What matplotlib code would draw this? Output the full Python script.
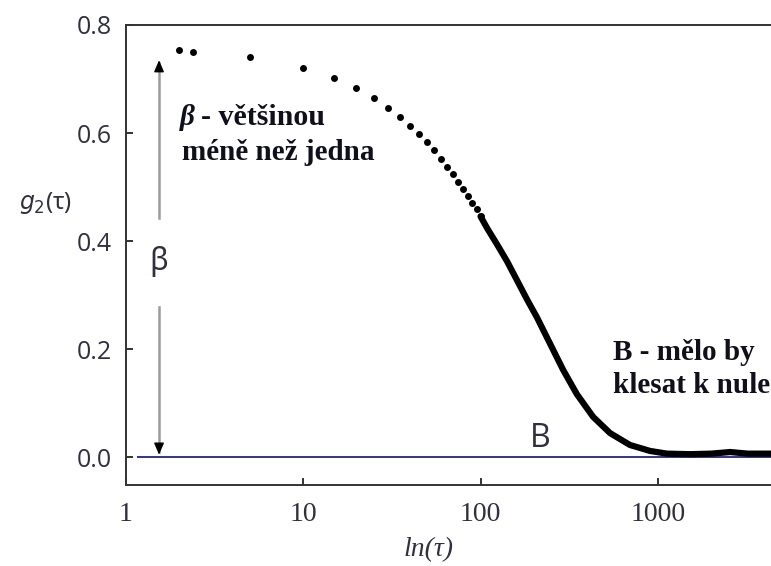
import numpy as np
import matplotlib
matplotlib.use("Agg")
import matplotlib.pyplot as plt

# korelační funkce g2(tau): řídké body na začátku
tau_dots = [2, 2.4, 5, 10, 15, 20, 25, 30, 35, 40, 45, 50, 55, 60, 65, 70,
            75, 80, 85, 90, 95, 100]
g2_dots = [0.754, 0.750, 0.741, 0.720, 0.702, 0.683, 0.665, 0.646, 0.630,
           0.613, 0.599, 0.583, 0.568, 0.552, 0.537, 0.524, 0.509, 0.496,
           0.483, 0.470, 0.459, 0.446]

# hustá část měření (body splývají do čáry)
tau_dense = [100, 109, 124, 141, 167, 183, 208, 246, 292, 349, 431, 537,
             695, 902, 1122, 1514, 2000, 2547, 3200, 4330]
g2_dense = [0.446, 0.424, 0.394, 0.363, 0.317, 0.292, 0.259, 0.211, 0.162,
            0.117, 0.075, 0.045, 0.023, 0.012, 0.007, 0.006, 0.007, 0.010,
            0.007, 0.007]

baseline_B = 0.0
beta_top = 0.74
xticks = [1, 10, 100, 1000]
yticks = [0.0, 0.2, 0.4, 0.6, 0.8]

W, H = 771, 566
fig = plt.figure(figsize=(W / 100, H / 100), dpi=100)


def fx(px):
    return px / W


def fy(py):
    return 1 - py / H


ax = fig.add_axes([fx(125.5), fy(485), fx(771 - 125.5), (485 - 25) / H])
ax.set_xscale('log')
ax.set_xlim(1, 4330)
ax.set_ylim(-0.051, 0.8)

tick_col = '#303040'
ax.set_xticks(xticks)
ax.set_xticklabels([str(t) for t in xticks], family='Liberation Serif',
                   fontsize=20, color=tick_col)
ax.xaxis.set_minor_locator(matplotlib.ticker.NullLocator())
ax.set_yticks(yticks)
ax.set_yticklabels([f'{v:.1f}' for v in yticks], family='Open Sans',
                   fontsize=18, color=tick_col)
ax.tick_params(direction='in', length=5, width=1.3, color='#222222')
ax.tick_params(axis='x', pad=12)
ax.tick_params(axis='y', pad=10)
ax.spines['right'].set_visible(False)
for s in ['left', 'bottom', 'top']:
    ax.spines[s].set_linewidth(1.4)
    ax.spines[s].set_color('#333333')

# základní linie B
ax.hlines(baseline_B, 1.16, 4330, color='#24247e', lw=1.3, zorder=2)

# data
ax.plot(tau_dots, g2_dots, 'o', color='black', ms=5, mew=0, zorder=3)
ax.plot(tau_dense, g2_dense, '-', color='black', lw=4.5,
        solid_capstyle='round', solid_joinstyle='round', zorder=3)

# šipka beta
xa = 1.545
ax.plot([xa, xa], [0.443, beta_top - 0.01], color='#9a9a9a', lw=1.8)
ax.plot([xa, xa], [0.278, baseline_B + 0.01], color='#9a9a9a', lw=1.8)
ax.annotate('', xy=(xa, beta_top), xytext=(xa, beta_top - 0.03),
            arrowprops=dict(arrowstyle='-|>,head_length=0.7,head_width=0.3',
                            color='black', lw=1))
ax.annotate('', xy=(xa, baseline_B), xytext=(xa, baseline_B + 0.03),
            arrowprops=dict(arrowstyle='-|>,head_length=0.7,head_width=0.3',
                            color='black', lw=1))
ax.text(xa, 0.362, 'β', ha='center', va='center', fontsize=22,
        family='Noto Sans', color=tick_col)
ax.text(217, baseline_B + 0.02, 'B', ha='center', va='baseline', fontsize=23,
        family='Open Sans', color=tick_col)

# popisky os
fig.text(fx(46), fy(203), '$g_2$(τ)', ha='center', va='center', fontsize=17,
         family=['Noto Sans', 'DejaVu Sans'], color=tick_col)
fig.text(fx(429), fy(550), 'ln(τ)', ha='center', va='center', fontsize=20,
         family='Liberation Serif', style='italic', color=tick_col)

# komentáře
txt_col = '#10101c'
fig.text(fx(180), fy(125), 'β', family='Liberation Serif', weight='bold',
         style='italic', fontsize=21, color=txt_col, va='baseline')
fig.text(fx(201), fy(125), '- většinou', family='Liberation Serif',
         weight='bold', fontsize=21.5, color=txt_col, va='baseline')
fig.text(fx(182), fy(160), 'méně než jedna', family='Liberation Serif',
         weight='bold', fontsize=21, color=txt_col, va='baseline')
fig.text(fx(613), fy(360), 'B - mělo by', family='Liberation Serif',
         weight='bold', fontsize=21, color=txt_col, va='baseline')
fig.text(fx(613), fy(393), 'klesat k nule', family='Liberation Serif',
         weight='bold', fontsize=21, color=txt_col, va='baseline')

fig.savefig('out.png', dpi=100)
